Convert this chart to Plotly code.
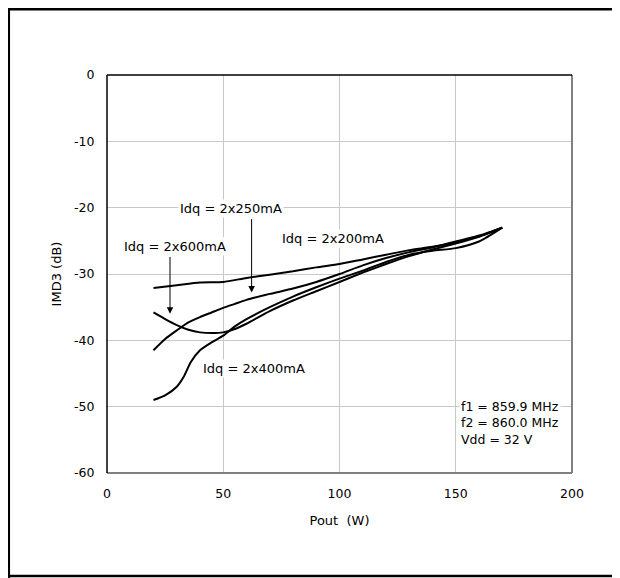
import plotly.graph_objects as go

# Data (Pout in W, IMD3 in dB)
pout_200 = [20, 30, 40, 50, 60, 70, 80, 90, 100, 110, 120, 130, 140, 150, 160, 170]
imd_200 = [-32.1, -31.7, -31.3, -31.2, -30.6, -30.1, -29.6, -29.0, -28.5, -27.8, -27.1, -26.4, -25.9, -25.2, -24.3, -23.0]

pout_250 = [20, 25, 30, 35, 40, 45, 50, 55, 60, 70, 80, 90, 100, 110, 120, 130, 140, 150, 160, 170]
imd_250 = [-41.5, -39.8, -38.5, -37.3, -36.5, -35.8, -35.1, -34.5, -33.9, -33.0, -32.2, -31.2, -30.0, -28.7, -27.6, -26.7, -26.0, -25.1, -24.2, -23.0]

pout_600 = [20, 25, 30, 35, 40, 45, 50, 55, 60, 70, 80, 90, 100, 110, 120, 130, 140, 150, 160, 170]
imd_600 = [-35.8, -36.8, -37.7, -38.4, -38.8, -38.9, -38.8, -38.3, -37.5, -35.6, -34.0, -32.6, -31.2, -29.8, -28.5, -27.3, -26.3, -25.4, -24.4, -23.0]

pout_400 = [20, 25, 30, 33, 36, 40, 45, 50, 55, 60, 70, 80, 90, 100, 110, 120, 130, 140, 150, 160, 170]
imd_400 = [-49.0, -48.3, -47.0, -45.5, -43.3, -41.5, -40.3, -39.3, -37.9, -36.8, -35.0, -33.4, -32.0, -30.7, -29.5, -28.2, -27.1, -26.5, -26.1, -25.1, -23.0]

x_ticks = [0, 50, 100, 150, 200]
y_ticks = [0, -10, -20, -30, -40, -50, -60]

FONT = "DejaVu Sans, Liberation Sans, Arial, sans-serif"

fig = go.Figure()
for xs, ys in [(pout_200, imd_200), (pout_250, imd_250), (pout_600, imd_600), (pout_400, imd_400)]:
    fig.add_trace(go.Scatter(x=xs, y=ys, mode="lines",
                             line=dict(color="black", width=2, shape="spline", smoothing=0.6),
                             showlegend=False, hoverinfo="skip"))

# the page body adds an 8 px margin, so the figure is 612x570
W, H = 612, 570
L, R, T, B = 99, 48, 67, 105
pw, ph = W - L - R, H - T - B


def px(xp):
    return (xp - L) / pw


def py(yp):
    return (H - B - yp) / ph


shapes = [
    # outer frame
    dict(type="line", xref="paper", yref="paper", x0=px(0), x1=px(W), y0=py(1.2), y1=py(1.2),
         line=dict(color="black", width=2.5)),
    dict(type="line", xref="paper", yref="paper", x0=px(0.8), x1=px(0.8), y0=py(0), y1=py(H),
         line=dict(color="black", width=2.5)),
    dict(type="line", xref="paper", yref="paper", x0=px(0), x1=px(W), y0=py(568), y1=py(568),
         line=dict(color="black", width=2.5)),
    # plot border
    dict(type="line", xref="paper", yref="paper", x0=0, x1=1, y0=0, y1=0, line=dict(color="#808080", width=2)),
    dict(type="line", xref="paper", yref="paper", x0=1, x1=1, y0=0, y1=1, line=dict(color="#808080", width=2)),
    dict(type="line", xref="paper", yref="paper", x0=0, x1=1, y0=1, y1=1, line=dict(color="black", width=1.5)),
    dict(type="line", xref="paper", yref="paper", x0=0, x1=0, y0=0, y1=1, line=dict(color="black", width=1.5)),
]

lab_font = dict(family=FONT, size=13, color="black")
annotations = [
    dict(x=53.5, y=-20.2, text="Idq = 2x250mA", showarrow=False, bgcolor="white", font=lab_font),
    dict(x=29.3, y=-25.9, text="Idq = 2x600mA", showarrow=False, bgcolor="white", font=lab_font),
    dict(x=97.0, y=-24.6, text="Idq = 2x200mA", showarrow=False, bgcolor="white", font=lab_font),
    dict(x=63.2, y=-44.2, text="Idq = 2x400mA", showarrow=False, bgcolor="white", font=lab_font),
    # arrows
    dict(x=62.2, y=-32.8, ax=62.2, ay=-21.5, xref="x", yref="y", axref="x", ayref="y", text="", showarrow=True,
         arrowhead=2, arrowsize=1.3, arrowwidth=1, arrowcolor="black"),
    dict(x=27.1, y=-36.0, ax=27.1, ay=-27.2, xref="x", yref="y", axref="x", ayref="y", text="", showarrow=True,
         arrowhead=2, arrowsize=1.3, arrowwidth=1, arrowcolor="black"),
    dict(x=151.2, y=-52.4, text="f1 = 859.9 MHz<br>f2 = 860.0 MHz<br>Vdd = 32 V", showarrow=False, align="left",
         xanchor="left", bgcolor="white", font=dict(family=FONT, size=12.5, color="black")),
]

fig.update_layout(
    width=W, height=H,
    margin=dict(l=L, r=R, t=T, b=B),
    paper_bgcolor="white", plot_bgcolor="white",
    shapes=shapes, annotations=annotations,
    font=dict(family=FONT, size=12.5, color="black"),
)
fig.update_xaxes(range=[0, 200], tickvals=x_ticks, ticktext=[str(v) for v in x_ticks], showgrid=True,
                 gridcolor="#c8c8c8", gridwidth=1, zeroline=False, showline=False,
                 ticks="outside", ticklen=9, tickcolor="rgba(0,0,0,0)",
                 title=dict(text="Pout  (W)", font=dict(family=FONT, size=13), standoff=15),
                 tickfont=dict(family=FONT, size=12.5))
fig.update_yaxes(range=[-60, 0], tickvals=y_ticks, ticktext=[str(v) for v in y_ticks], showgrid=True,
                 gridcolor="#c8c8c8", gridwidth=1, zeroline=False, showline=False,
                 ticks="outside", ticklen=9, tickcolor="rgba(0,0,0,0)",
                 title=dict(text="IMD3 (dB)", font=dict(family=FONT, size=13), standoff=9),
                 tickfont=dict(family=FONT, size=12.5))

fig.write_html("out.html")
